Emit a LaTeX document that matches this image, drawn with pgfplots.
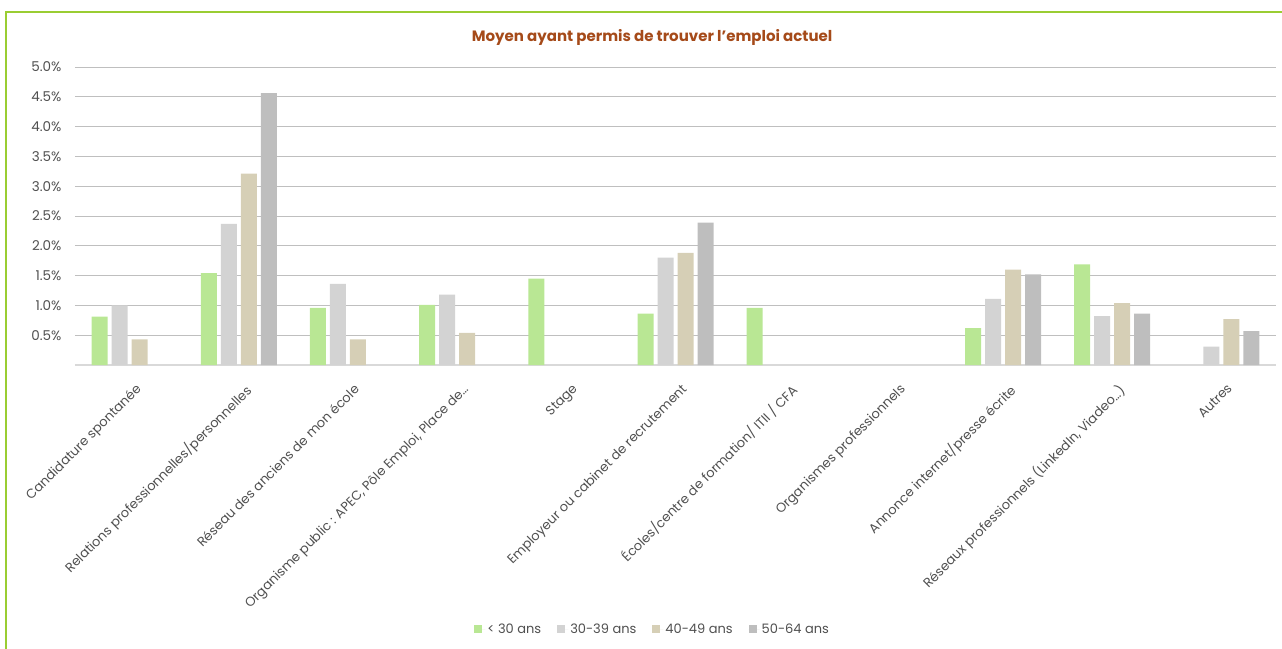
\documentclass[border=0pt]{standalone}
\usepackage{pgfplots}
\pgfplotsset{compat=1.18}
\usepackage{fontspec}
\setmainfont{Poppins}
\definecolor{cA}{HTML}{B9E794}
\definecolor{cB}{HTML}{D3D3D3}
\definecolor{cC}{HTML}{D6CFB6}
\definecolor{cD}{HTML}{BEBEBE}
\definecolor{grid}{HTML}{D9D9D9}
\definecolor{txt}{HTML}{505050}
\definecolor{ttl}{HTML}{A54A19}
\definecolor{frame}{HTML}{9ACD32}
\begin{document}
\begin{tikzpicture}
\useasboundingbox (-75pt,-283pt) rectangle (1207pt,365pt);
\begin{axis}[
  at={(0pt,0pt)}, anchor=south west,
  scale only axis, width=1201pt, height=298pt,
  ybar=4pt, bar width=16pt,
  xmin=-0.5, xmax=10.5, ymin=0, ymax=5,
  xtick={0,...,10},
  xticklabels={Candidature spontanée, Relations professionnelles/personnelles, Réseau des anciens de mon école, {Organisme public : APEC, Pôle Emploi, Place de…}, Stage, Employeur ou cabinet de recrutement, Écoles/centre de formation/ ITII / CFA, Organismes professionnels, Annonce internet/presse écrite, {Réseaux professionnels (LinkedIn, Viadeo…)}, Autres},
  x tick label style={rotate=45, anchor=north east, font=\fontsize{13}{15}\selectfont, text=txt, inner sep=2pt, yshift=-14pt, xshift=-7pt},
  ytick={0.5,1,...,5},
  yticklabel={\pgfmathprintnumber[fixed,fixed zerofill,precision=1]{\tick}\%},
  /pgf/number format/assume math mode=true,
  y tick label style={font=\fontsize{13.5}{15}\selectfont, text=txt, xshift=-10pt},
  xmajorgrids=false, ymajorgrids=true,
  grid style={grid, line width=1pt},
  axis x line*=bottom, axis y line*=left,
  x axis line style={grid, line width=2pt, -},
  y axis line style={draw=none},
  tick style={draw=none},
  major tick length=0pt,
  title={Moyen ayant permis de trouver l'emploi actuel},
  title style={at={(axis description cs:0.4805,1)}, anchor=base, yshift=20pt, font=\fontsize{15}{18}\bfseries, text=ttl},
  legend columns=4,
  legend style={at={(axis description cs:0.481,-0.886)}, anchor=center, draw=none, font=\fontsize{13}{15}\selectfont, text=txt, /tikz/every even column/.append style={column sep=14pt}},
  legend image code/.code={\path (0pt,0pt) -- (11pt,0pt); \fill (0pt,-4pt) rectangle (8pt,4pt);},
]
\addplot[fill=cA, draw=none] coordinates {(0,0.81) (1,1.54) (2,0.96) (3,1.01) (4,1.45) (5,0.86) (6,0.96) (8,0.62) (9,1.69)};
\addplot[fill=cB, draw=none] coordinates {(0,1.00) (1,2.37) (2,1.36) (3,1.18) (5,1.80) (8,1.11) (9,0.82) (10,0.31)};
\addplot[fill=cC, draw=none] coordinates {(0,0.43) (1,3.21) (2,0.43) (3,0.54) (5,1.88) (8,1.60) (9,1.04) (10,0.77)};
\addplot[fill=cD, draw=none] coordinates {(1,4.56) (5,2.39) (8,1.52) (9,0.86) (10,0.57)};
\legend{< 30 ans, 30-39 ans, 40-49 ans, 50-64 ans}
\end{axis}
\draw[frame, line width=2pt] (-69pt,-300pt) -- (-69pt,353pt) -- (1300pt,353pt);
\end{tikzpicture}
\end{document}
